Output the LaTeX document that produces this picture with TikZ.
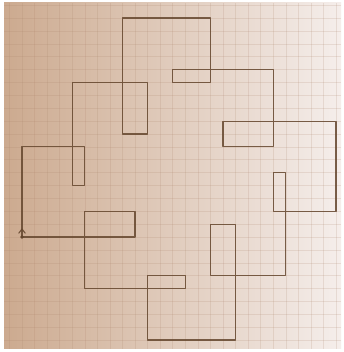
\documentclass[tikz,border=0pt]{standalone}
\definecolor{paperL}{RGB}{204,170,143}
\definecolor{paperM}{RGB}{231,212,198}
\definecolor{paperR}{RGB}{245,238,235}
\definecolor{ink}{RGB}{100,70,45}
\definecolor{gridc}{RGB}{170,130,105}
\tikzset{
  pathline/.style={draw=ink, line width=1.1pt, line join=round, line cap=round, opacity=0.85},
  gridline/.style={draw=gridc, line width=0.5pt, opacity=0.18},
}
\begin{document}
\begin{tikzpicture}[x=1pt,y=1pt]
\useasboundingbox (0,0) rectangle (343,352);
\fill[white] (0,0) rectangle (343,352);
\shade[left color=paperL, middle color=paperM, right color=paperR] (4,3) rectangle (341,349);
\begin{scope}[shift={(22pt,115pt)}, x=12.56pt, y=12.88pt]
  \begin{scope}
    \clip (-1.43,-8.69) rectangle (25.4,18.17);
    \foreach \i in {-1,...,25} \draw[gridline] (\i,-8.69) -- (\i,18.17);
    \foreach \j in {-8,...,18} \draw[gridline] (-1.43,\j) -- (25.4,\j);
  \end{scope}
  \coordinate (start) at (0,0);
  \draw[pathline] (start) -- (0,7) -- (5,7) -- (5,4) -- (4,4) -- (4,12) -- (10,12) -- (10,8) -- (8,8)
    -- (8,17) -- (15,17) -- (15,12) -- (12,12) -- (12,13) -- (20,13) -- (20,7) -- (16,7) -- (16,9)
    -- (25,9) -- (25,2) -- (20,2) -- (20,5) -- (21,5) -- (21,-3) -- (15,-3) -- (15,1) -- (17,1)
    -- (17,-8) -- (10,-8) -- (10,-3) -- (13,-3) -- (13,-4) -- (5,-4) -- (5,2) -- (9,2) -- (9,0) -- cycle;
  \draw[pathline] (-0.25,0.3) -- (0,0.62) -- (0.25,0.3);
  \fill[ink] (start) circle (1.8pt);
\end{scope}
\end{tikzpicture}
\end{document}
